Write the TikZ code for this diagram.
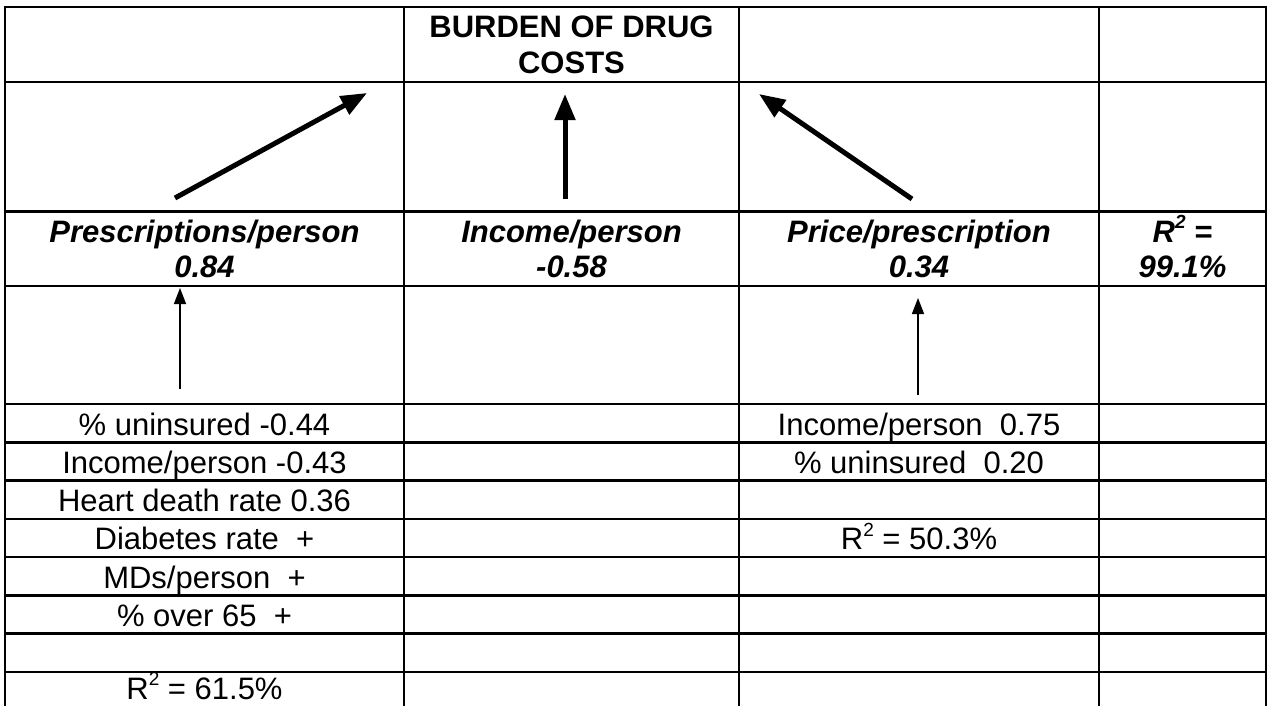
\documentclass[tikz,border=0pt]{standalone}
\usepackage{fontspec}
\setmainfont{Liberation Sans}
\usetikzlibrary{arrows.meta}
\newcommand{\sqr}{\raisebox{0.42em}{\fontsize{19}{19}\selectfont 2}}
\begin{document}
\begin{tikzpicture}[x=1pt,y=-1pt,
  grid/.style={line width=2.5pt, line cap=rect},
  txt/.style={anchor=base, inner sep=0pt, font=\fontsize{31}{35}\selectfont},
  ttl/.style={anchor=base, inner sep=0pt, font=\fontsize{31}{35}\selectfont\bfseries},
  hdr/.style={anchor=base, inner sep=0pt, font=\fontsize{31}{35}\selectfont\bfseries\itshape},
  bigarrow/.style={line width=5pt, -{Triangle[length=26pt,width=20pt]}},
  thinarrow/.style={line width=1.5pt, -{Triangle[length=16pt,width=12pt]}}]
\useasboundingbox (0,0) rectangle (1269,705);
\clip (0,0) rectangle (1269,705);
% grid
\foreach \x in {5,404,739,1099,1266} \draw[grid] (\x,7) -- (\x,712);
\foreach \y in {7,82,211.5,286,404,442.5,480.5,519,557,595.5,633.5,672} \draw[grid] (5,\y) -- (1266,\y);
% title
\node[ttl] (burdenA) at (571.5,37) {BURDEN OF DRUG};
\node[ttl] (burdenB) at (571.5,73) {COSTS};
% headers
\node[hdr] (presc) at (204.5,242) {Prescriptions/person};
\node[hdr] (prescv) at (204.5,277) {0.84};
\node[hdr] (inc) at (571.5,242) {Income/person};
\node[hdr] (incv) at (571.5,277) {-0.58};
\node[hdr] (price) at (919,242) {Price/prescription};
\node[hdr] (pricev) at (919,277) {0.34};
\node[hdr] (rsq) at (1182.5,242) {R\sqr{} =};
\node[hdr] (rsqv) at (1182.5,277) {99.1\%};
% left column factors
\node[txt] (l1) at (204.5,435) {\% uninsured -0.44};
\node[txt] (l2) at (204.5,473) {Income/person -0.43};
\node[txt] (l3) at (204.5,511.5) {Heart death rate 0.36};
\node[txt] (l4) at (204.5,549.5) {Diabetes rate\ \ +};
\node[txt] (l5) at (204.5,588) {MDs/person\ \ +};
\node[txt] (l6) at (204.5,626) {\% over 65\ \ +};
\node[txt] (l8) at (204.5,699) {R\sqr{} = 61.5\%};
% price column factors
\node[txt] (r1) at (919,435) {Income/person\ \ 0.75};
\node[txt] (r2) at (919,473) {\% uninsured\ \ 0.20};
\node[txt] (r4) at (919,549.5) {R\sqr{} = 50.3\%};
% arrow end points
\coordinate (a1s) at (175,198);
\coordinate (a1e) at (367,93);
\coordinate (a2s) at (565,199);
\coordinate (a2e) at (565,94);
\coordinate (a3s) at (912,199);
\coordinate (a3e) at (759,94);
\coordinate (t1s) at (180,389);
\coordinate (t1e) at (180,288);
\coordinate (t2s) at (918,395);
\coordinate (t2e) at (918,298);
\draw[bigarrow] (a1s) -- (a1e);
\draw[bigarrow] (a2s) -- (a2e);
\draw[bigarrow] (a3s) -- (a3e);
\draw[thinarrow] (t1s) -- (t1e);
\draw[thinarrow] (t2s) -- (t2e);
\end{tikzpicture}
\end{document}
